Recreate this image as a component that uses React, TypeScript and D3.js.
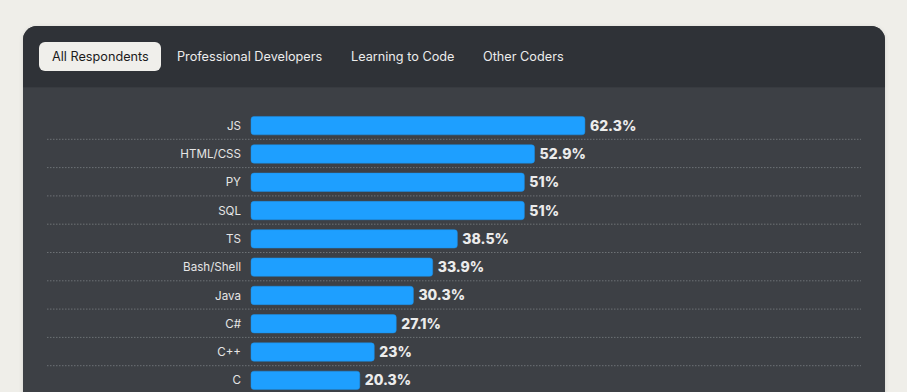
import React from 'react';
import * as d3 from 'd3';

const LANGUAGES = ['JS', 'HTML/CSS', 'PY', 'SQL', 'TS', 'Bash/Shell', 'Java', 'C#', 'C++', 'C'];
const SHARES = [62.3, 52.9, 51, 51, 38.5, 33.9, 30.3, 27.1, 23, 20.3];
const TABS = ['All Respondents', 'Professional Developers', 'Learning to Code', 'Other Coders'];

const W = 907;
const H = 392;
const FONT = 'Inter, "Noto Sans", sans-serif';

const App: React.FC = () => {
  const data = LANGUAGES.map((name, i) => ({ name, value: SHARES[i] }));

  // rows: each band ends at a dotted separator
  const y = d3.scaleBand<string>()
    .domain(LANGUAGES)
    .range([111.5, 111.5 + 28.3 * LANGUAGES.length])
    .paddingInner(0.35)
    .paddingOuter(0.175);

  const x = d3.scaleLinear().domain([0, 100]).range([251, 787]);

  const step = y.step();
  const rowStart = (name: string) => (y(name) ?? 0) - step * 0.175;

  // tab positions (left edge of text)
  const tabX = [52, 177, 351, 483];

  return (
    <div style={{ position: 'fixed', left: 0, top: 0, width: W, height: H, overflow: 'hidden' }}>
      <svg width={W} height={H} style={{ display: 'block', fontFamily: FONT }}>
        <defs>
          <filter id="shadow" x="-5%" y="-5%" width="110%" height="120%">
            <feDropShadow dx="0" dy="1" stdDeviation="2" floodColor="#000" floodOpacity="0.12" />
          </filter>
          <clipPath id="card">
            <rect x={23} y={26} width={862} height={420} rx={14} />
          </clipPath>
        </defs>
        <rect width={W} height={H} fill="#efeee9" />

        {/* card */}
        <rect x={23} y={26} width={862} height={420} rx={14} fill="#3c4044" filter="url(#shadow)" />
        <g clipPath="url(#card)">
          <rect x={23} y={26} width={862} height={61} fill="#2f3237" />
          <line x1={23} x2={885} y1={87.5} y2={87.5} stroke="#383b40" />
        </g>

        {/* tabs */}
        <rect x={39} y={42} width={122} height={29} rx={6} fill="#f0efeb" />
        {TABS.map((t, i) => (
          <text
            key={t}
            x={tabX[i]}
            y={61}
            fontSize={12.7}
            fill={i === 0 ? '#1b1b1b' : '#ececec'}
          >
            {t}
          </text>
        ))}

        {/* separators */}
        {data.map(d => (
          <line
            key={'sep' + d.name}
            x1={47}
            x2={861}
            y1={rowStart(d.name) + step - 0.5}
            y2={rowStart(d.name) + step - 0.5}
            stroke="#6d7175"
            strokeDasharray="1.5 1.5"
          />
        ))}

        {/* bars */}
        {data.map(d => (
          <g key={d.name}>
            <rect
              x={x(0)}
              y={y(d.name)}
              width={x(d.value) - x(0)}
              height={y.bandwidth()}
              rx={3}
              fill="#1e9fff"
              stroke="#1b8fe6"
              strokeWidth={0.5}
            />
            <text
              x={x(0) - 10}
              y={(y(d.name) ?? 0) + y.bandwidth() / 2}
              dy="0.35em"
              textAnchor="end"
              fontSize={11.6}
              fill="#e6e6e6"
            >
              {d.name}
            </text>
            <text
              x={x(d.value) + 5}
              y={(y(d.name) ?? 0) + y.bandwidth() / 2}
              dy="0.36em"
              fontSize={14}
              fontWeight={800}
              fill="#ececec"
            >
              {d.value + '%'}
            </text>
          </g>
        ))}
      </svg>
    </div>
  );
};

export default App;
